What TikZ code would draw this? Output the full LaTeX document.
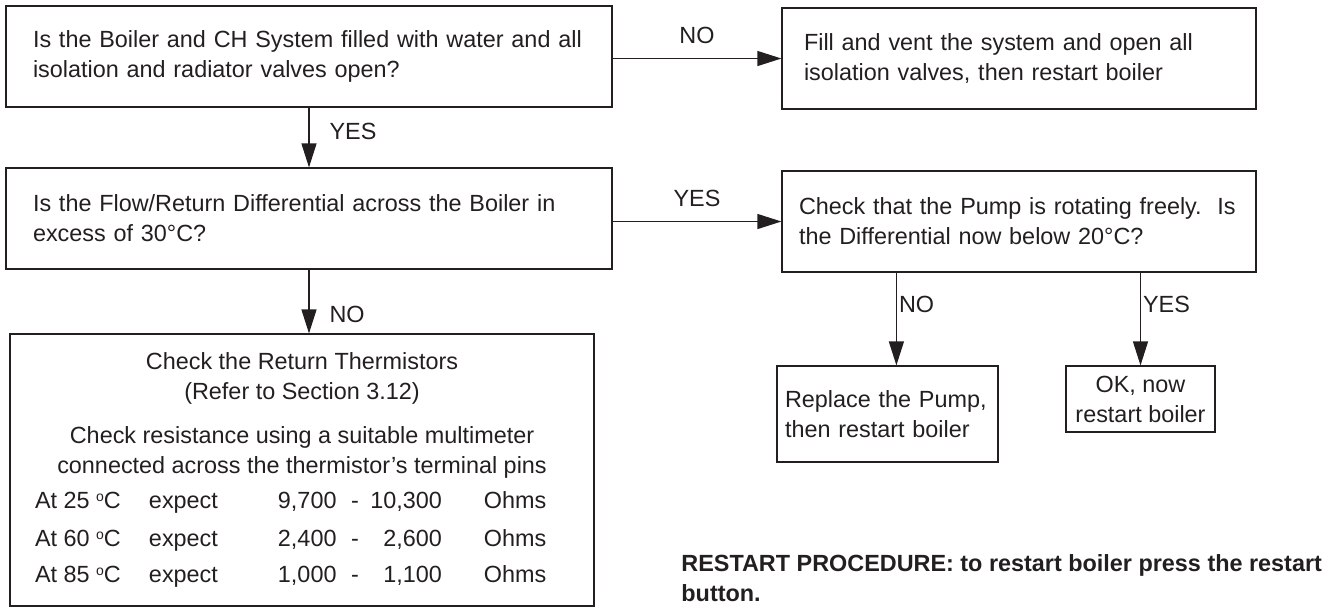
\documentclass[tikz,border=0pt]{standalone}
\usepackage{fontspec}
\setmainfont{Liberation Sans}
\usepackage{xcolor}
\usetikzlibrary{positioning, arrows.meta, calc}

\definecolor{ink}{HTML}{231F20}
\newcommand{\degsup}{\raisebox{3.6pt}{\fontsize{7}{7}\selectfont o}}
\newcommand{\trow}[3]{\makebox[57pt][l]{At #1 \degsup C}\makebox[64.5pt][l]{expect}\makebox[36pt][l]{#2}\makebox[5pt]{-}\makebox[41pt][r]{#3}\makebox[21pt]{}\makebox[42.5pt][l]{Ohms}}

\begin{document}
\begin{tikzpicture}[x=0.5pt, y=-0.5pt, font=\fontsize{11.7}{15}\selectfont, text=ink,
  box/.style={draw=ink, line width=0.6pt, rectangle, inner sep=0pt, align=left},
  arr/.style={draw=ink, line width=0.6pt, -{Triangle[length=12pt, width=7.5pt]}},
  lbl/.style={inner sep=2pt}]
  \useasboundingbox (0,0) rectangle (1328,607);

  \node[box, minimum width=303pt, minimum height=50.5pt, text width=276pt] (q1) at (309,56.5) {Is the Boiler and CH System filled with water and all\\ isolation and radiator valves open?};
  \node[box, minimum width=237pt, minimum height=50.5pt, text width=215pt] (fill) at (1019,58.5) {Fill and vent the system and open all\\ isolation valves, then restart boiler};
  \node[box, minimum width=303pt, minimum height=50.5pt, text width=276pt] (q2) at (309,218.5) {Is the Flow/Return Differential across the Boiler in\\ excess of 30°C?};
  \node[box, minimum width=237pt, minimum height=50.5pt, text width=220pt] (pump) at (1019,221.5) {Check that the Pump is rotating freely.\ \ Is\\ the Differential now below 20°C?};
  \node[box, minimum width=110.5pt, minimum height=48pt, text width=102.5pt] (repl) at (887.5,414) {Replace the Pump,\\ then restart boiler};
  \node[box, align=center, minimum width=74.5pt, minimum height=33pt] (ok) at (1140.5,399) {OK, now\\ restart boiler};
  \node[box, align=center, minimum width=292pt, minimum height=136pt] (therm) at (302,470) {Check the Return Thermistors\\ (Refer to Section 3.12)\\[7pt] Check resistance using a suitable multimeter\\ connected across the thermistor's terminal pins\\[2.5pt] \trow{25}{9,700}{10,300}\\[4pt] \trow{60}{2,400}{2,600}\\[3pt] \trow{85}{1,000}{1,100}};

  \node[anchor=north west, inner sep=0pt, align=left, font=\bfseries\fontsize{11.7}{15}\selectfont] (restart) at (681,554) {RESTART PROCEDURE: to restart boiler press the restart\\ button.};

  \draw[arr] (q1.east |- fill.west) -- node[lbl, above=5pt] {NO} (fill.west);
  \draw[arr] (q1.south) -- node[lbl, right=8pt, pos=0.4] {YES} (q2.north);
  \draw[arr] (q2.east |- pump.west) -- node[lbl, above=5pt] {YES} (pump.west);
  \draw[arr] (q2.south) -- node[lbl, right=8pt, pos=0.7] {NO} (q2.south |- therm.north);
  \draw[arr] ([xshift=57.5pt]pump.south west) coordinate (pn) -- node[lbl, right=0pt, pos=0.34, inner sep=1pt] {NO} (pn |- repl.north);
  \draw[arr] (pump.south -| ok.north) -- node[lbl, right=0pt, pos=0.34, inner sep=1pt] {YES} (ok.north);
\end{tikzpicture}
\end{document}
